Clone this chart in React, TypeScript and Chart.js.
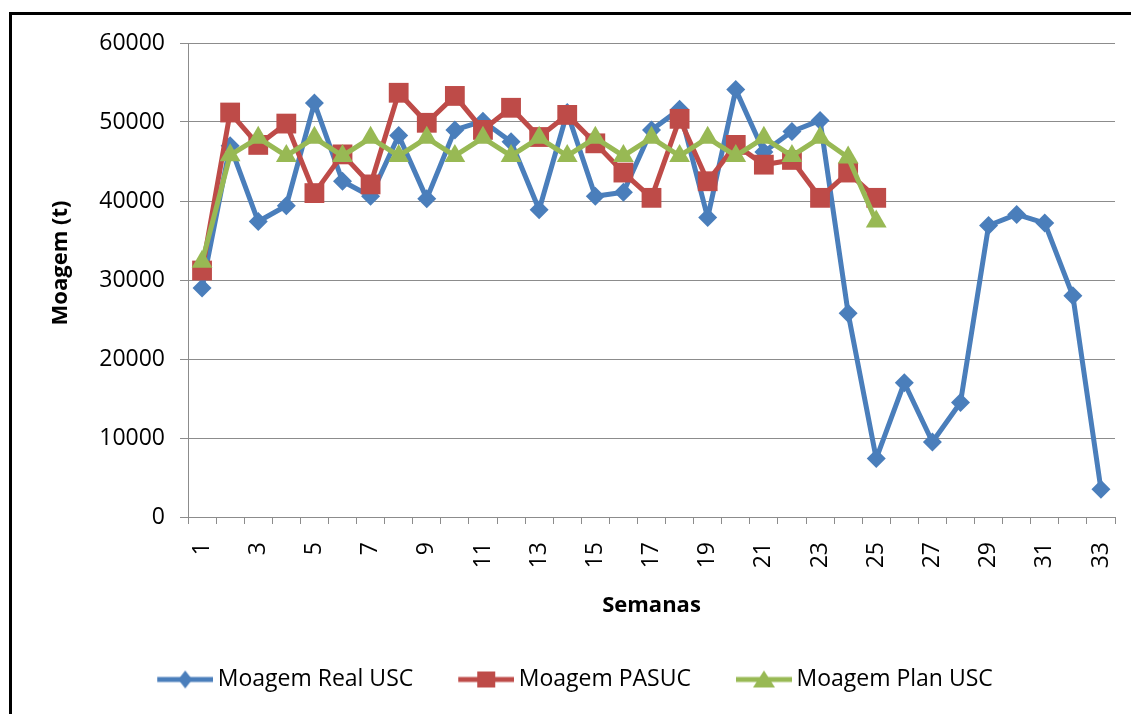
import React, { useEffect, useRef } from 'react';
import { Chart, registerables } from 'chart.js';

Chart.register(...registerables);

const weeks = ['1', '2', '3', '4', '5', '6', '7', '8', '9', '10', '11', '12', '13', '14', '15', '16', '17', '18', '19', '20', '21', '22', '23', '24', '25', '26', '27', '28', '29', '30', '31', '32', '33'];

const realUSC = [29000, 47000, 37400, 39400, 52400, 42500, 40600, 48300, 40300, 49000, 50100, 47500, 38900, 51200, 40600, 41100, 49000, 51600, 37900, 54100, 46200, 48800, 50200, 25800, 7400, 17000, 9500, 14500, 36900, 38300, 37200, 28000, 3500];

const pasuc = [31200, 51200, 47100, 49800, 41000, 45900, 42100, 53700, 49900, 53300, 49000, 51800, 48100, 50900, 47300, 43600, 40400, 50400, 42500, 47100, 44600, 45200, 40400, 43600, 40400];

const planUSC = [32300, 45800, 48000, 45700, 48000, 45700, 48000, 45700, 48000, 45700, 48000, 45700, 48000, 45700, 48000, 45700, 48000, 45700, 48000, 45700, 48000, 45700, 48000, 45500, 37400];

const seriesNames = ['Moagem Real USC', 'Moagem PASUC', 'Moagem Plan USC'];
const xTitle = 'Semanas';
const yTitle = 'Moagem (t)';
const yMin = 0;
const yMax = 60000;
const yStep = 10000;

const BLUE = '#4A7EBB';
const RED = '#BE4B48';
const GREEN = '#98B954';
const GRID = '#8C8C8C';
const FONT = "'Open Sans', 'DejaVu Sans', sans-serif";

function legendImage(color: string, shape: string): HTMLCanvasElement {
  const c = document.createElement('canvas');
  c.width = 98;
  c.height = 24;
  const ctx = c.getContext('2d')!;
  ctx.strokeStyle = color;
  ctx.lineWidth = 5;
  ctx.beginPath();
  ctx.moveTo(42, 12);
  ctx.lineTo(98, 12);
  ctx.stroke();
  ctx.fillStyle = color;
  const cx = 70;
  const cy = 12;
  ctx.beginPath();
  if (shape === 'diamond') {
    ctx.moveTo(cx, cy - 9);
    ctx.lineTo(cx + 7, cy);
    ctx.lineTo(cx, cy + 9);
    ctx.lineTo(cx - 7, cy);
  } else if (shape === 'square') {
    ctx.rect(cx - 9, cy - 8, 18, 16);
  } else {
    ctx.moveTo(cx, cy - 9);
    ctx.lineTo(cx + 11, cy + 8);
    ctx.lineTo(cx - 11, cy + 8);
  }
  ctx.closePath();
  ctx.fill();
  return c;
}

const yTitlePlugin = {
  id: 'yTitlePlugin',
  afterDraw(chart: any) {
    const ctx = chart.ctx;
    ctx.save();
    ctx.translate(61, 263);
    ctx.rotate(-Math.PI / 2);
    ctx.font = `bold 22px ${FONT}`;
    ctx.fillStyle = '#000';
    ctx.textAlign = 'center';
    ctx.textBaseline = 'middle';
    ctx.fillText(yTitle, 0, 0);
    ctx.restore();
  },
};

export default function App() {
  const ref = useRef<HTMLCanvasElement>(null);

  useEffect(() => {
    const images = [legendImage(BLUE, 'diamond'), legendImage(RED, 'square'), legendImage(GREEN, 'triangle')];
    const common = {
      borderWidth: 5,
      tension: 0,
      fill: false,
      borderJoinStyle: 'round' as const,
      borderCapStyle: 'round' as const,
      pointBorderWidth: 0,
    };
    const chart = new Chart(ref.current!, {
      type: 'line',
      plugins: [yTitlePlugin],
      data: {
        labels: weeks,
        datasets: [
          {
            ...common,
            label: seriesNames[0],
            data: realUSC,
            borderColor: BLUE,
            backgroundColor: BLUE,
            pointBackgroundColor: BLUE,
            pointStyle: 'rectRot',
            pointRadius: 9.5,
            order: 2,
          },
          {
            ...common,
            label: seriesNames[1],
            data: pasuc,
            borderColor: RED,
            backgroundColor: RED,
            pointBackgroundColor: RED,
            pointStyle: 'rect',
            pointRadius: 14,
            order: 1,
          },
          {
            ...common,
            label: seriesNames[2],
            data: planUSC,
            borderColor: GREEN,
            backgroundColor: GREEN,
            pointBackgroundColor: GREEN,
            pointStyle: 'triangle',
            pointRadius: 12,
            order: 0,
          },
        ],
      },
      options: {
        responsive: false,
        animation: false,
        devicePixelRatio: 1,
        layout: { padding: { top: 43, right: 16, bottom: 13, left: 0 } },
        plugins: {
          tooltip: { enabled: false },
          legend: {
            position: 'bottom',
            labels: {
              usePointStyle: true,
              pointStyleWidth: 84,
              padding: 10,
              color: '#000',
              font: { family: FONT, size: 23 },
              generateLabels: (ch: any) =>
                ch.data.datasets.map((ds: any, i: number) => ({
                  text: ds.label,
                  fillStyle: ds.borderColor,
                  strokeStyle: ds.borderColor,
                  lineWidth: 0,
                  hidden: false,
                  datasetIndex: i,
                  pointStyle: images[i],
                  fontColor: '#000',
                })),
            },
          },
        },
        scales: {
          x: {
            type: 'category',
            offset: true,
            afterFit: (s: any) => {
              s.height = 141;
              s.paddingLeft = 0;
              s.paddingRight = 0;
            },
            grid: {
              display: true,
              offset: true,
              drawOnChartArea: false,
              drawTicks: true,
              tickLength: 7,
              color: GRID,
            },
            border: { display: true, color: GRID, width: 1 },
            ticks: {
              autoSkip: false,
              maxRotation: 90,
              minRotation: 90,
              padding: 18,
              color: '#000',
              font: { family: FONT, size: 23 },
              callback: (_v: any, i: number) => (i % 2 === 0 ? weeks[i] : ''),
            },
            title: {
              display: true,
              text: xTitle,
              color: '#000',
              font: { family: FONT, size: 22, weight: 'bold' },
              padding: { top: 0, bottom: 39 },
            },
          },
          y: {
            min: yMin,
            max: yMax,
            afterFit: (s: any) => {
              s.width = 188;
            },
            grid: {
              color: GRID,
              drawTicks: true,
              tickLength: 8,
            },
            border: { display: true, color: GRID, width: 1 },
            ticks: {
              stepSize: yStep,
              padding: 15,
              color: '#000',
              font: { family: FONT, size: 23 },
              callback: (v: any) => String(v),
            },
            title: { display: false },
          },
        },
      },
    });
    return () => chart.destroy();
  }, []);

  return (
    <div style={{ position: 'fixed', left: 0, top: 0, width: 1131, height: 714, overflow: 'hidden', background: '#fff' }}>
      <canvas ref={ref} width={1131} height={714} style={{ position: 'absolute', left: 0, top: 0 }} />
      <div
        style={{
          position: 'absolute',
          left: 9,
          top: 12,
          width: 1300,
          height: 900,
          border: '3px solid #000',
          boxSizing: 'border-box',
          pointerEvents: 'none',
        }}
      />
    </div>
  );
}
